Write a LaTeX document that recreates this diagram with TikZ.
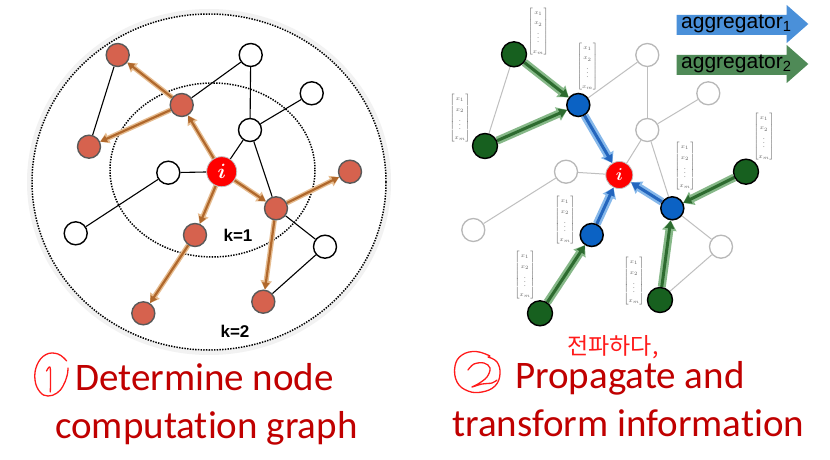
\documentclass[tikz,border=0pt]{standalone}
\usepackage{amsmath}
\usepackage{fontspec}
\setmainfont[Ligatures=NoCommon]{Carlito}
\newfontfamily\arialf{Liberation Sans}
\newfontfamily\krf{Noto Sans CJK KR}
\usetikzlibrary{arrows.meta}
\definecolor{titleRed}{HTML}{C00000}
\definecolor{hand}{HTML}{FF1A1A}
\definecolor{rnodeC}{HTML}{D6624E}
\definecolor{brownA}{HTML}{B0682C}
\definecolor{brownG}{HTML}{E6BC90}
\definecolor{gnodeC}{HTML}{17601F}
\definecolor{bnodeC}{HTML}{0B62C4}
\definecolor{greenA}{HTML}{2D6B2F}
\definecolor{greenG}{HTML}{86B888}
\definecolor{blueA}{HTML}{2466BE}
\definecolor{blueG}{HTML}{86B8EA}
\definecolor{aggOne}{HTML}{4A90D9}
\definecolor{aggTwo}{HTML}{4F8A57}
\pgfdeclarelayer{back}
\pgfdeclarelayer{bg}
\pgfsetlayers{back,bg,main}
\begin{document}
\begin{tikzpicture}[x=1pt,y=-1pt,
  wnode/.style={circle,draw=black,fill=white,line width=1.4pt,minimum size=23pt,inner sep=0pt},
  rnode/.style={circle,draw=black!65,fill=rnodeC,line width=1.4pt,minimum size=23pt,inner sep=0pt},
  inode/.style={circle,fill=red,draw=black!25,line width=0.8pt,minimum size=30pt,inner sep=0pt,text=white,font=\fontsize{21}{21}\selectfont},
  gwnode/.style={circle,draw=black!28,fill=white,line width=1.3pt,minimum size=23pt,inner sep=0pt},
  grnode/.style={circle,draw=black,fill=gnodeC,line width=1.4pt,minimum size=25pt,inner sep=0pt},
  blnode/.style={circle,draw=black,fill=bnodeC,line width=1.5pt,minimum size=23pt,inner sep=0pt},
  ledge/.style={black,line width=1.1pt},
  gedge/.style={black!25,line width=1pt},
  brglow/.style={brownG,line width=5pt,-{Triangle[length=9pt,width=11pt]}},
  brarr/.style={brownA,line width=2.2pt,-{Triangle[length=7pt,width=7pt]}},
  grglow/.style={greenG,line width=8pt,-{Triangle[length=10pt,width=14pt]}},
  grarr/.style={greenA,line width=3pt,-{Triangle[length=8pt,width=9pt]}},
  blglow/.style={blueG,line width=8pt,-{Triangle[length=10pt,width=14pt]}},
  blarr/.style={blueA,line width=3pt,-{Triangle[length=8pt,width=9pt]}},
  fv/.style={font=\fontsize{6.5}{10.5}\selectfont,text=black!62,inner sep=0pt},
  klab/.style={font=\arialf\bfseries\fontsize{17}{17}\selectfont,inner sep=0pt},
  ttl/.style={font=\fontsize{39}{39}\selectfont,text=titleRed,inner sep=0pt,anchor=base west},
  aggtxt/.style={font=\arialf\fontsize{21}{21}\selectfont,inner sep=0pt,anchor=base west},
  handln/.style={hand,line width=1.3pt,line cap=round,line join=round}
]
\useasboundingbox (0,0) rectangle (830,460);
\begin{pgfonlayer}{back}
\fill[white] (0,0) rectangle (830,460);
\end{pgfonlayer}

% ---------- left graph ----------
\begin{pgfonlayer}{back}
\draw[black!5,line width=5pt] (209,182) ellipse [x radius=179.5, y radius=170.5];
\draw[black,line width=1.5pt,dash pattern=on 1.4pt off 1.3pt] (209,182) ellipse [x radius=177, y radius=168];
\draw[black,line width=1.5pt,dash pattern=on 1.4pt off 1.3pt] (212.5,170) ellipse [x radius=102.5, y radius=87];
\end{pgfonlayer}

\node[inode] (i) at (221.7,171.7) {$\boldsymbol{i}$};
\node[rnode] (A) at (117.7,55) {};
\node[rnode] (B) at (181.7,105) {};
\node[rnode] (C) at (89,146.7) {};
\node[wnode] (D) at (250.7,55) {};
\node[wnode] (E) at (311.7,93.3) {};
\node[wnode] (F) at (250,130) {};
\node[wnode] (G) at (168.3,172.7) {};
\node[wnode] (H) at (75.7,233.3) {};
\node[rnode] (J) at (350,171.7) {};
\node[rnode] (K) at (276,208.3) {};
\node[rnode] (L) at (195,235) {};
\node[wnode] (M) at (325,246.7) {};
\node[rnode] (N) at (143.3,313.3) {};
\node[rnode] (O) at (263.3,301.7) {};

\begin{pgfonlayer}{bg}
\draw[ledge] (A) -- (C);
\draw[ledge] (B) -- (D);
\draw[ledge] (D) -- (F);
\draw[ledge] (F) -- (E);
\draw[ledge] (F) -- (i);
\draw[ledge] (F) -- (K);
\draw[ledge] (G) -- (i);
\draw[ledge] (G) -- (H);
\draw[ledge] (K) -- (M);
\draw[ledge] (M) -- (O);
\foreach \s/\t in {i/B,B/A,B/C,i/K,K/J,K/O,i/L,L/N}{
  \draw[brglow] (\s) -- (\t);
  \draw[brarr] (\s) -- (\t);
}
\end{pgfonlayer}

\node[klab] (k1) at (238,235) {k=1};
\node[klab] (k2) at (235,331) {k=2};

% ---------- right graph ----------
\node[inode,minimum size=27pt,font=\fontsize{19}{19}\selectfont] (ri) at (619.3,175) {$\boldsymbol{i}$};
\node[grnode] (g1) at (514,54.3) {};
\node[grnode] (g2) at (485,146) {};
\node[grnode] (g3) at (746,171.7) {};
\node[grnode] (g4) at (540,313.3) {};
\node[grnode] (g5) at (660,300) {};
\node[blnode] (b1) at (578.3,105) {};
\node[blnode] (b2) at (591.7,235) {};
\node[blnode] (b3) at (672.3,208.3) {};
\node[gwnode] (w1) at (647.3,55) {};
\node[gwnode] (w2) at (708.3,93.3) {};
\node[gwnode] (w3) at (647.3,130) {};
\node[gwnode] (w4) at (566,171.7) {};
\node[gwnode] (w5) at (473.3,230) {};
\node[gwnode] (w6) at (721,246.7) {};

\begin{pgfonlayer}{bg}
\draw[gedge] (g1) -- (g2);
\draw[gedge] (b1) -- (w1);
\draw[gedge] (w1) -- (w3);
\draw[gedge] (w3) -- (w2);
\draw[gedge] (w3) -- (ri);
\draw[gedge] (w3) -- (b3);
\draw[gedge] (b3) -- (w6);
\draw[gedge] (w6) -- (g5);
\draw[gedge] (w4) -- (ri);
\draw[gedge] (w4) -- (w5);
\foreach \s/\t in {g1/b1,g2/b1,g3/b3,g4/b2,g5/b3}{
  \draw[grglow] (\s) -- (\t);
  \draw[grarr] (\s) -- (\t);
}
\foreach \s in {b1,b2,b3}{
  \draw[blglow] (\s) -- (ri);
  \draw[blarr] (\s) -- (ri);
}
\end{pgfonlayer}

% feature vectors
\foreach \n/\x/\y in {v1/538.3/31.7, v2/587.5/66.7, v3/460/118, v4/764/136.7, v5/685/166, v6/565/220, v7/525/275, v8/634/281}{
  \node[fv] (\n) at (\x,\y) {$\begin{bmatrix}x_1\\x_2\\\vdots\\x_m\end{bmatrix}$};
}

% aggregator arrows
\fill[aggOne] (676.7,15) -- (786.7,15) -- (786.7,5) -- (808.3,24) -- (786.7,43) -- (786.7,35) -- (676.7,35) -- cycle;
\node[aggtxt] (ag1) at (681,28.5) {aggregator\textsubscript{1}};
\fill[aggTwo] (676.7,55) -- (786.7,55) -- (786.7,45) -- (808.3,64) -- (786.7,83) -- (786.7,75) -- (676.7,75) -- cycle;
\node[aggtxt] (ag2) at (681,68.5) {aggregator\textsubscript{2}};

% ---------- captions ----------
\node[ttl] (t1) at (75,390) {Determine node};
\node[ttl] (t2) at (55,438) {computation graph};
\node[ttl] (t3) at (515,388) {Propagate and};
\node[ttl] (t4) at (452,436.7) {transform information};

% handwriting
\draw[handln] plot[smooth,tension=0.7] coordinates {(66.7,361) (58,354) (46,354.5) (37,365) (35,380) (40,392) (48,396) (57,393) (63,386) (67,376) (68,368)};
\draw[handln] plot[smooth,tension=0.6] coordinates {(46.5,371) (50,367) (50.5,380) (50.3,392)};
\draw[handln] plot[smooth,tension=0.7] coordinates {(490,356) (476,351.5) (462,355) (455,366) (457,382) (468,391) (482,392) (495,386) (500,374) (497,362) (488,357)};
\draw[handln] plot[smooth,tension=0.6] coordinates {(468,370) (474,364) (484,363) (490,368) (487,377) (478,384) (472,387) (482,384) (492,383) (497,380)};
\node[text=hand,font=\krf\fontsize{23}{23}\selectfont,inner sep=0pt] (kr) at (613,347) {전파하다,};
\end{tikzpicture}
\end{document}
